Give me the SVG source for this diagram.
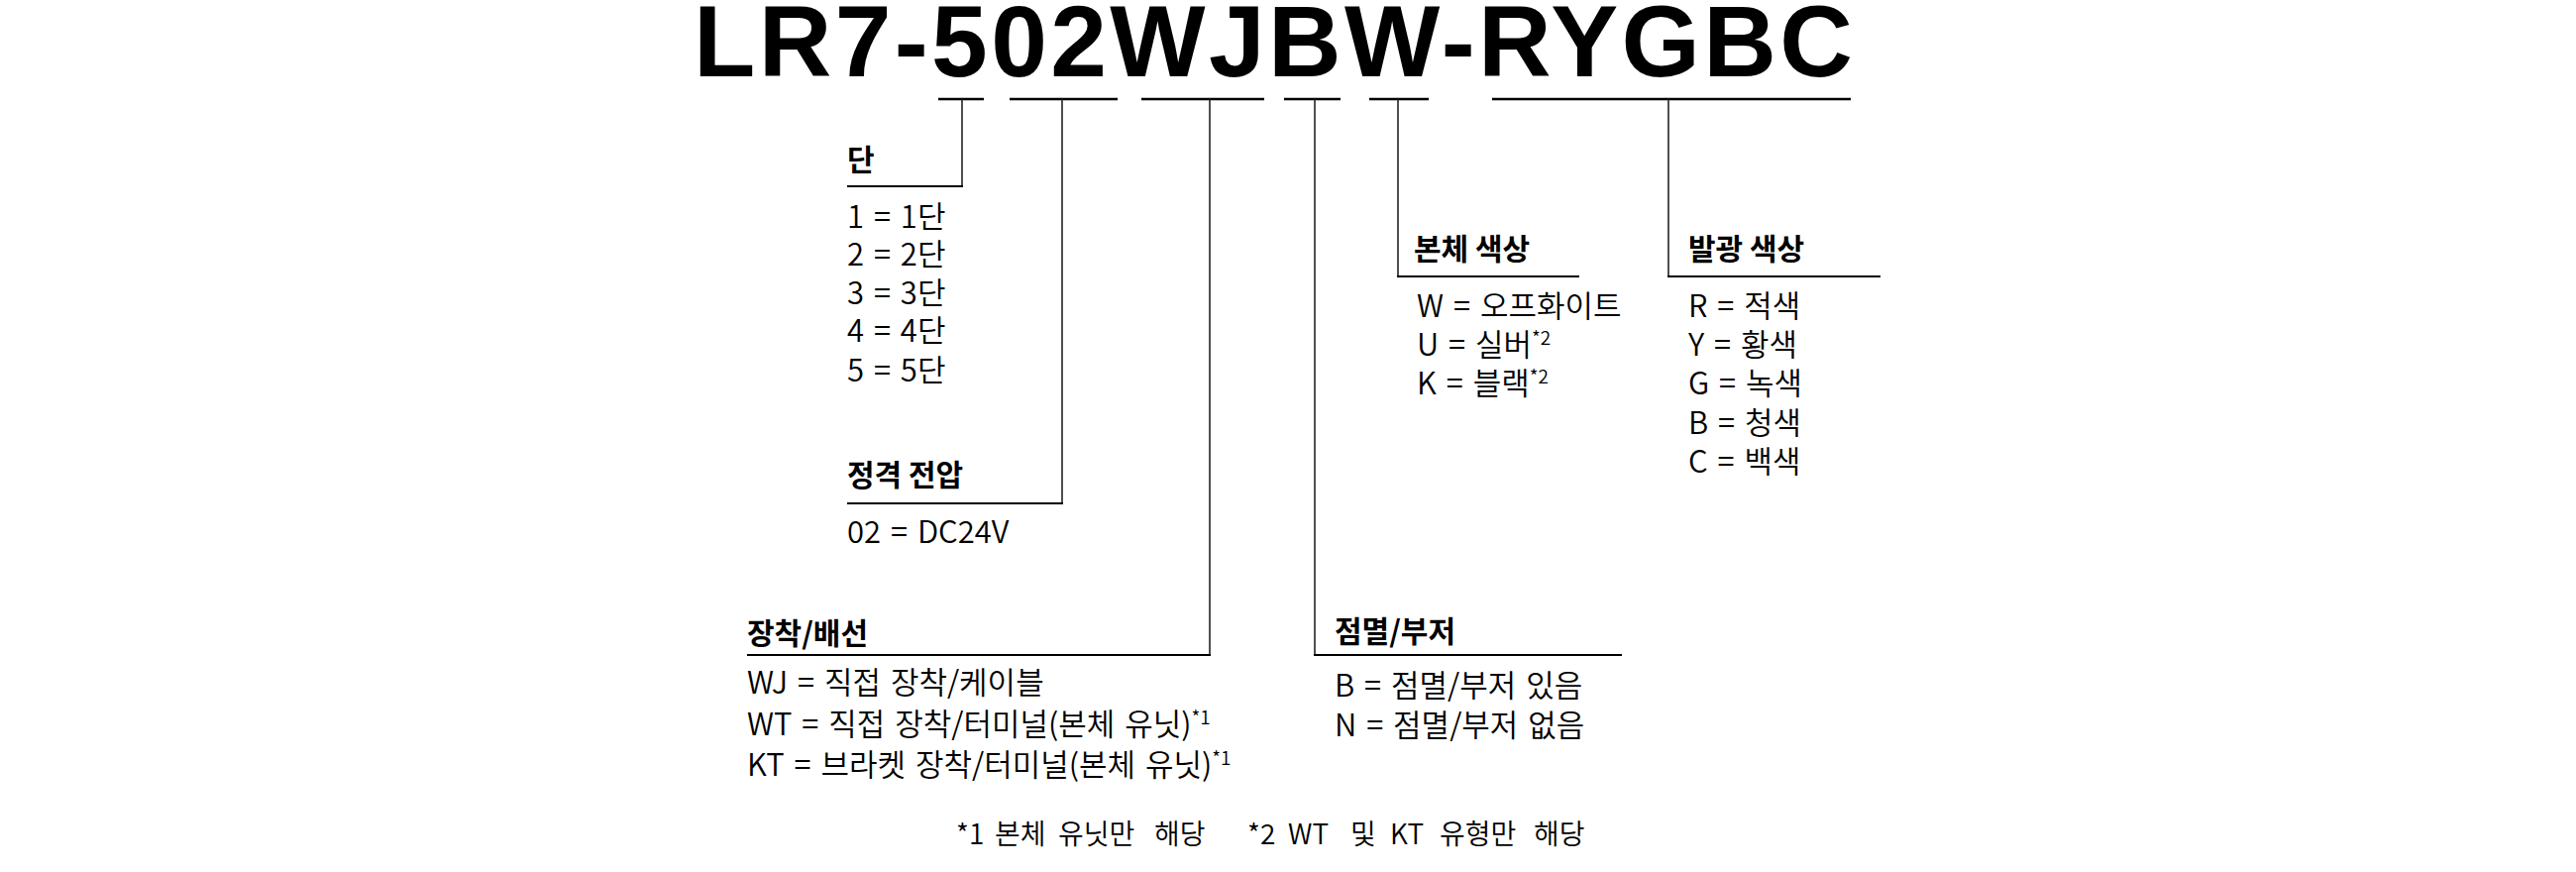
<svg xmlns="http://www.w3.org/2000/svg" width="2600" height="880" viewBox="0 0 2600 880">
<style>
.t{font-family:"Liberation Sans",Arial,sans-serif;font-weight:700;font-size:102px;fill:#000}
.lb{font-family:"Noto Sans CJK KR","Noto Sans",sans-serif;font-weight:700;font-size:30px;fill:#000}
.it{font-family:"Noto Sans CJK KR","Noto Sans",sans-serif;font-weight:350;font-size:31px;word-spacing:3px;fill:#000}
.fn{font-family:"Noto Sans CJK KR","Noto Sans",sans-serif;font-weight:350;font-size:28px;fill:#000}
.sup{font-size:19px}
.ul{stroke:#000;stroke-width:2.5;fill:none}
.h{stroke:#000;stroke-width:2;fill:none}
.v{stroke:#222;stroke-width:1.6;fill:none}
</style>
<rect width="2600" height="880" fill="#fff"/>
<g id="title">
<text class="t" x="700" y="77" textLength="1170" lengthAdjust="spacing">LR7-502WJBW-RYGBC</text>
</g>
<g id="connectors">
<line class="ul" x1="947" y1="100" x2="993" y2="100"/>
<line class="ul" x1="1019" y1="100" x2="1128" y2="100"/>
<line class="ul" x1="1152" y1="100" x2="1276" y2="100"/>
<line class="ul" x1="1296" y1="100" x2="1353" y2="100"/>
<line class="ul" x1="1382" y1="100" x2="1442" y2="100"/>
<line class="ul" x1="1506" y1="100" x2="1868" y2="100"/>
<polyline class="v" points="971,100 971,188"/>
<line class="h" x1="855" y1="188" x2="972" y2="188"/>
<polyline class="v" points="1072,100 1072,508"/>
<line class="h" x1="855" y1="508" x2="1073" y2="508"/>
<polyline class="v" points="1221,100 1221,661"/>
<line class="h" x1="754" y1="661" x2="1222" y2="661"/>
<polyline class="v" points="1327,100 1327,661"/>
<line class="h" x1="1326" y1="661" x2="1637" y2="661"/>
<polyline class="v" points="1411,100 1411,279"/>
<line class="h" x1="1410" y1="279" x2="1594" y2="279"/>
<polyline class="v" points="1684,100 1684,279"/>
<line class="h" x1="1683" y1="279" x2="1898" y2="279"/>
</g>
<g id="dan">
<text class="lb" x="855" y="172">단</text>
<text class="it" x="855" y="230">1 = 1단</text>
<text class="it" x="855" y="268">2 = 2단</text>
<text class="it" x="855" y="307">3 = 3단</text>
<text class="it" x="855" y="345">4 = 4단</text>
<text class="it" x="855" y="385">5 = 5단</text>
</g>
<g id="voltage">
<text class="lb" x="855" y="490">정격 전압</text>
<text class="it" x="855" y="548">02 = DC24V</text>
</g>
<g id="mounting">
<text class="lb" x="754" y="650">장착/배선</text>
<text class="it" x="754" y="700">WJ = 직접 장착/케이블</text>
<text class="it" x="754" y="742">WT = 직접 장착/터미널(본체 유닛)<tspan class="sup" dy="-11">*1</tspan></text>
<text class="it" x="754" y="783">KT = 브라켓 장착/터미널(본체 유닛)<tspan class="sup" dy="-11">*1</tspan></text>
</g>
<g id="buzzer">
<text class="lb" x="1347" y="648">점멸/부저</text>
<text class="it" x="1347" y="703">B = 점멸/부저 있음</text>
<text class="it" x="1347" y="743">N = 점멸/부저 없음</text>
</g>
<g id="body-color">
<text class="lb" x="1427" y="262">본체 색상</text>
<text class="it" x="1430" y="320">W = 오프화이트</text>
<text class="it" x="1430" y="359">U = 실버<tspan class="sup" dy="-11">*2</tspan></text>
<text class="it" x="1430" y="398">K = 블랙<tspan class="sup" dy="-11">*2</tspan></text>
</g>
<g id="light-color">
<text class="lb" x="1704" y="262">발광 색상</text>
<text class="it" x="1704" y="320">R = 적색</text>
<text class="it" x="1704" y="359">Y = 황색</text>
<text class="it" x="1704" y="398">G = 녹색</text>
<text class="it" x="1704" y="438">B = 청색</text>
<text class="it" x="1704" y="477">C = 백색</text>
</g>
<g id="footnotes">
<text class="fn" y="852"><tspan x="965">*1</tspan><tspan x="1004">본체</tspan><tspan x="1068">유닛만</tspan><tspan x="1165">해당</tspan></text>
<text class="fn" y="852"><tspan x="1259">*2</tspan><tspan x="1300">WT</tspan><tspan x="1363">및</tspan><tspan x="1403">KT</tspan><tspan x="1453">유형만</tspan><tspan x="1548">해당</tspan></text>
</g>
</svg>
